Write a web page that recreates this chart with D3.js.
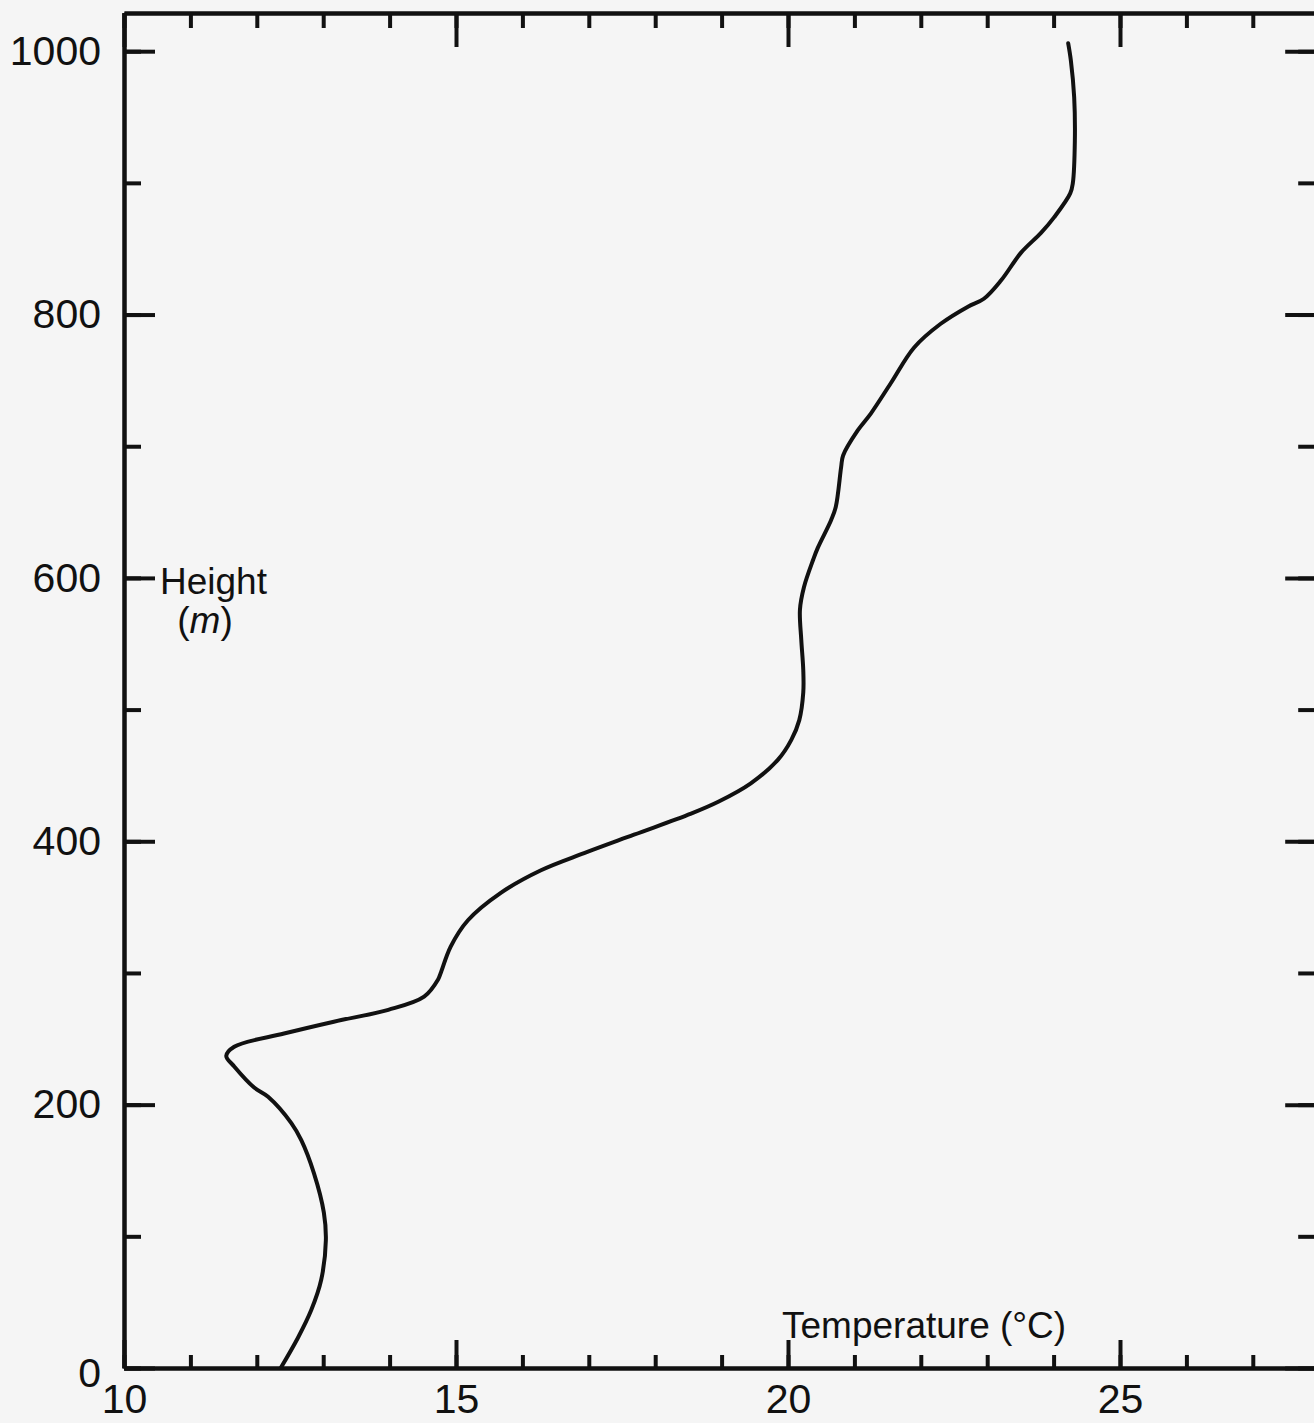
<!DOCTYPE html>
<html>
<head>
<meta charset="utf-8">
<script src="https://cdn.jsdelivr.net/npm/d3@7"></script>
<style>
  body { margin: 0; background: #f5f5f5; }
  svg { display: block; }
  .axis text { font-family: "Liberation Sans", Arial, sans-serif; font-size: 41px; fill: #111; }
  .label { font-family: "Liberation Sans", Arial, sans-serif; font-size: 37px; fill: #111; }
</style>
</head>
<body>
<div id="chart"></div>
<script>
// temperature profile, bottom to top
var heights = [0, 23, 44, 67, 97, 118, 148, 173, 186, 206, 213, 229, 237, 244, 254, 263, 272, 282,
               295, 300, 320, 340, 361, 378, 391, 405, 421, 430, 444, 462, 477, 492, 513, 530, 553,
               576, 593, 614, 623, 644, 654, 684, 693, 712, 725, 748, 775, 793, 806, 812, 826, 847,
               862, 874, 892, 900, 932, 965, 993, 1006];
var temps   = [12.36, 12.62, 12.82, 12.97, 13.04, 13.01, 12.86, 12.67, 12.52, 12.17, 11.96, 11.66, 11.54, 11.66, 12.41, 13.16, 13.98, 14.52,
               14.73, 14.77, 14.92, 15.18, 15.68, 16.28, 16.93, 17.68, 18.54, 18.95, 19.44, 19.85, 20.05, 20.17, 20.23, 20.23, 20.20,
               20.18, 20.24, 20.38, 20.45, 20.65, 20.72, 20.80, 20.83, 21.05, 21.25, 21.55, 21.90, 22.30, 22.71, 22.95, 23.21, 23.51,
               23.81, 24.01, 24.25, 24.29, 24.32, 24.31, 24.26, 24.22];

var xMinor = d3.range(10, 29, 1);
var xMajor = [10, 15, 20, 25];
var yMinor = d3.range(0, 1001, 100);
var yMajor = [0, 200, 400, 600, 800, 1000];
var xDomain = [10, 28];
var yDomain = [0, 1029];

var width = 1314,
    height = 1423;

var x = d3.scaleLinear().domain(xDomain).range([124, 124 + 18 * 66.4]),
    y = d3.scaleLinear().domain(yDomain).range([1368, 13]);

var svg = d3.select('#chart').append('svg').attr('width', width).attr('height', height);

svg.append('rect').attr('width', width).attr('height', height).attr('fill', '#f5f5f5');

function styleAxis(g) {
  g.select('.domain').attr('stroke', '#111').attr('stroke-width', 4);
  g.selectAll('.tick line').attr('stroke', '#111').attr('stroke-width', 4);
  g.attr('font-size', null).attr('font-family', null);
}

var yB = y(0), yT = y(yDomain[1]), xL = x(10), xR = x(28),
    fmt = d3.format('d');

// bottom: minor then major with labels
svg.append('g').attr('class', 'axis').attr('transform', 'translate(0,' + yB + ')')
  .call(d3.axisBottom(x).tickValues(xMinor).tickFormat('').tickSizeInner(-13).tickSizeOuter(0)).call(styleAxis);
svg.append('g').attr('class', 'axis').attr('transform', 'translate(0,' + yB + ')')
  .call(d3.axisBottom(x).tickValues(xMajor).tickFormat(fmt).tickSizeInner(-28).tickSizeOuter(0).tickPadding(16)).call(styleAxis);

// top
svg.append('g').attr('class', 'axis').attr('transform', 'translate(0,' + yT + ')')
  .call(d3.axisTop(x).tickValues(xMinor).tickFormat('').tickSizeInner(-15).tickSizeOuter(0)).call(styleAxis);
svg.append('g').attr('class', 'axis').attr('transform', 'translate(0,' + yT + ')')
  .call(d3.axisTop(x).tickValues(xMajor).tickFormat('').tickSizeInner(-34).tickSizeOuter(0)).call(styleAxis);

// left
svg.append('g').attr('class', 'axis').attr('transform', 'translate(' + xL + ',0)')
  .call(d3.axisLeft(y).tickValues(yMinor).tickFormat('').tickSizeInner(-17).tickSizeOuter(0)).call(styleAxis);
svg.append('g').attr('class', 'axis').attr('transform', 'translate(' + xL + ',0)')
  .call(d3.axisLeft(y).tickValues(yMajor).tickFormat(fmt).tickSizeInner(-31).tickSizeOuter(0).tickPadding(23)).call(styleAxis);

// right (line itself falls just past the edge)
svg.append('g').attr('class', 'axis').attr('transform', 'translate(' + xR + ',0)')
  .call(d3.axisRight(y).tickValues(yMinor).tickFormat('').tickSizeInner(-21).tickSizeOuter(0)).call(styleAxis);
svg.append('g').attr('class', 'axis').attr('transform', 'translate(' + xR + ',0)')
  .call(d3.axisRight(y).tickValues(yMajor).tickFormat('').tickSizeInner(-34).tickSizeOuter(0)).call(styleAxis);

// the 0 sits a touch below its tick in the scan
svg.selectAll('.axis .tick text').filter(function(d) { return d === 0 && this.getAttribute('x') < 0; })
  .attr('dy', '0.45em');

var points = heights.map(function(h, i) { return {h: h, t: temps[i]}; });

var line = d3.line()
  .x(function(d) { return x(d.t); })
  .y(function(d) { return y(d.h); })
  .curve(d3.curveCatmullRom.alpha(0.5));

svg.append('path').datum(points)
  .attr('d', line)
  .attr('fill', 'none')
  .attr('stroke', '#111')
  .attr('stroke-width', 4)
  .attr('stroke-linejoin', 'round')
  .attr('stroke-linecap', 'round');

// axis titles
svg.append('text').attr('class', 'label').attr('x', 160).attr('y', 594).text('Height');
var m = svg.append('text').attr('class', 'label').attr('x', 205).attr('y', 633).attr('text-anchor', 'middle');
m.append('tspan').text('(');
m.append('tspan').attr('font-style', 'italic').text('m');
m.append('tspan').text(')');

svg.append('text').attr('class', 'label').attr('x', 782).attr('y', 1338).text('Temperature (°C)');
</script>
</body>
</html>
